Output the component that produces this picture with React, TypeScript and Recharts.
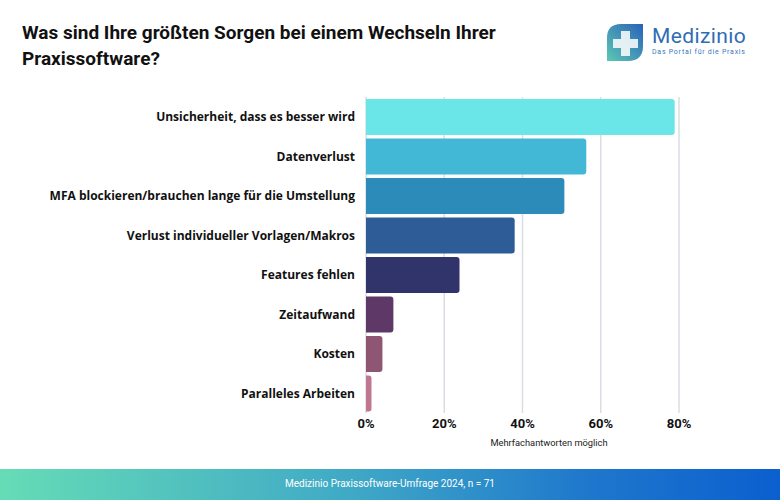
import { BarChart, Bar, XAxis, YAxis, CartesianGrid, Cell } from "recharts";

const categories = [
  "Unsicherheit, dass es besser wird",
  "Datenverlust",
  "MFA blockieren/brauchen lange für die Umstellung",
  "Verlust individueller Vorlagen/Makros",
  "Features fehlen",
  "Zeitaufwand",
  "Kosten",
  "Paralleles Arbeiten",
];
const shares = [78.9, 56.3, 50.7, 38.0, 23.9, 7.0, 4.2, 1.4];
const xTicks = [0, 20, 40, 60, 80];

const barColors = ["#6ae6e9", "#43b8d6", "#2c8bb9", "#2e5c96", "#31336b", "#5e3866", "#8e5672", "#c07590"];

const data = categories.map((name, i) => ({ name, value: shares[i] }));

const font = "Roboto, 'Noto Sans', sans-serif";
const labelFont = "'Open Sans', 'Noto Sans', sans-serif";

const Logo = () => (
  <div style={{ position: "absolute", left: 606, top: 23, display: "flex", alignItems: "flex-start" }}>
    <svg width={40} height={39} viewBox="0 0 40 39">
      <defs>
        <linearGradient id="lg" x1="0" y1="1" x2="1" y2="0">
          <stop offset="0%" stopColor="#5cc7b4" />
          <stop offset="100%" stopColor="#2a62b8" />
        </linearGradient>
      </defs>
      <path d="M1 15 Q1 1 15 1 L37 1 L37 23 Q37 38 22 38 L1 38 Z" fill="url(#lg)" />
      <path d="M15 8 h9 v8 h8 v9 h-8 v8 h-9 v-8 h-8 v-9 h8 z" fill="#ffffff" opacity={0.85} />
    </svg>
    <div style={{ marginLeft: 6, fontFamily: font }}>
      <div style={{ fontSize: 21, color: "#2f6db3", lineHeight: "26px", letterSpacing: 0.4 }}>Medizinio</div>
      <div style={{ fontSize: 7, color: "#3a78be", letterSpacing: 0.75, marginTop: -1 }}>Das Portal für die Praxis</div>
    </div>
  </div>
);

export default function App() {
  return (
    <div style={{ position: "absolute", left: 0, top: 0, width: 780, height: 500, background: "#ffffff", overflow: "hidden", fontFamily: font }}>
      <div
        style={{
          position: "absolute",
          left: 22,
          top: 20,
          fontSize: 19,
          fontWeight: 700,
          lineHeight: "26px",
          color: "#111111",
        }}
      >
        Was sind Ihre größten Sorgen bei einem Wechseln Ihrer
        <br />
        Praxissoftware?
      </div>
      <Logo />
      <div style={{ position: "absolute", left: 0, top: 0 }}>
        <BarChart
          width={780}
          height={500}
          data={data}
          layout="vertical"
          margin={{ top: 97, right: 101, bottom: 53, left: 0 }}
          barCategoryGap={2}
        >
          <CartesianGrid vertical horizontal={false} stroke="#d9dde3" strokeWidth={1.5} />
          <XAxis
            type="number"
            domain={[0, 80]}
            ticks={xTicks}
            tickFormatter={(v) => `${v}%`}
            axisLine={false}
            tickLine={false}
            tickSize={0}
            tickMargin={6}
            height={34}
            interval={0}
            tick={{ fill: "#111111", fontSize: 13, fontWeight: 700, fontFamily: font }}
          />
          <YAxis
            type="category"
            dataKey="name"
            width={366}
            axisLine={false}
            tickLine={false}
            tickSize={0}
            tickMargin={11}
            interval={0}
            tick={{ fill: "#111111", fontSize: 12, fontWeight: 700, fontFamily: labelFont }}
          />
          <Bar dataKey="value" radius={[0, 3, 3, 0]} isAnimationActive={false}>
            {data.map((_, i) => (
              <Cell key={`c-${i}`} fill={barColors[i]} />
            ))}
          </Bar>
        </BarChart>
      </div>
      <div
        style={{
          position: "absolute",
          left: 449,
          top: 437,
          width: 200,
          textAlign: "center",
          fontSize: 9.3,
          color: "#222222",
          lineHeight: "12px",
        }}
      >
        Mehrfachantworten möglich
      </div>
      <div
        style={{
          position: "absolute",
          left: 0,
          top: 469,
          width: 780,
          height: 31,
          background: "linear-gradient(90deg, #66dcb6 0%, #3fa9c6 45%, #1f78cc 75%, #0b5fcf 100%)",
          color: "#ffffff",
          fontSize: 10,
          textAlign: "center",
          lineHeight: "30px",
        }}
      >
        Medizinio Praxissoftware-Umfrage 2024, n = 71
      </div>
    </div>
  );
}
